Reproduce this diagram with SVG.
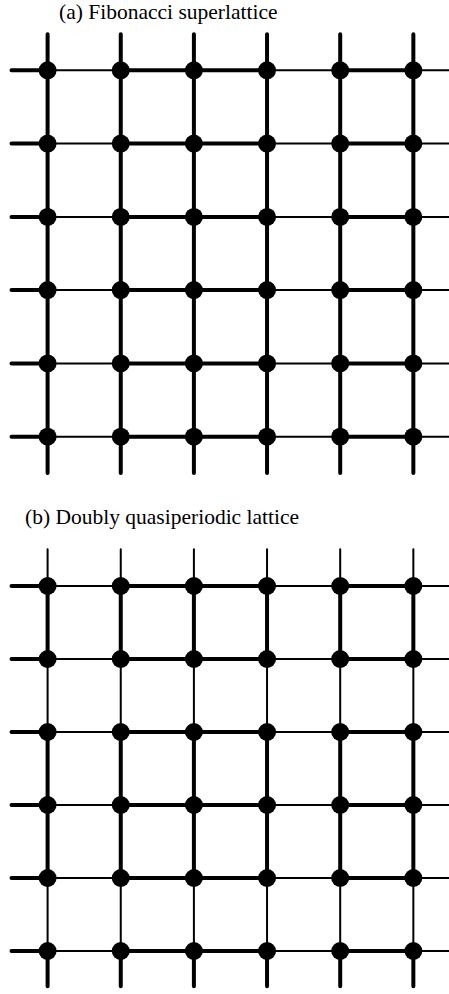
<svg xmlns="http://www.w3.org/2000/svg" width="449" height="994" viewBox="0 0 449 994">
<style>
.t{font-family:'Liberation Serif','Times New Roman',Times,serif;font-size:21.5px;fill:#000}
.k{stroke:#000;stroke-width:4;fill:none;stroke-linecap:round}
.n{stroke:#000;stroke-width:2;fill:none;stroke-linecap:round}
circle{fill:#000}
</style>
<text class="t" font-family="Liberation Serif, serif" x="59" y="19">(a) Fibonacci superlattice</text>
<text class="t" font-family="Liberation Serif, serif" x="25" y="523.5">(b) Doubly quasiperiodic lattice</text>
<g id="connectors">
<g class="k">
<path d="M47.6 34.3V473M120.75 34.3V473M193.9 34.3V473M267.05 34.3V473M340.2 34.3V473M413.35 34.3V473"/>
<path d="M11.5 70.3H47.6M120.75 70.3H267.05M340.2 70.3H413.35M11.5 143.6H47.6M120.75 143.6H267.05M340.2 143.6H413.35M11.5 216.9H47.6M120.75 216.9H267.05M340.2 216.9H413.35M11.5 290.1H47.6M120.75 290.1H267.05M340.2 290.1H413.35M11.5 363.4H47.6M120.75 363.4H267.05M340.2 363.4H413.35M11.5 436.7H47.6M120.75 436.7H267.05M340.2 436.7H413.35"/>
<path d="M11.5 586H47.6M120.75 586H267.05M340.2 586H413.35M11.5 659H47.6M120.75 659H267.05M340.2 659H413.35M11.5 732H47.6M120.75 732H267.05M340.2 732H413.35M11.5 805H47.6M120.75 805H267.05M340.2 805H413.35M11.5 878H47.6M120.75 878H267.05M340.2 878H413.35M11.5 951H47.6M120.75 951H267.05M340.2 951H413.35"/>
<path d="M47.6 586V659M47.6 732V878M47.6 951V986.3M120.75 586V659M120.75 732V878M120.75 951V986.3M193.9 586V659M193.9 732V878M193.9 951V986.3M267.05 586V659M267.05 732V878M267.05 951V986.3M340.2 586V659M340.2 732V878M340.2 951V986.3M413.35 586V659M413.35 732V878M413.35 951V986.3"/>
</g>
<g class="n">
<path d="M47.6 70.3H120.75M267.05 70.3H340.2M413.35 70.3H449M47.6 143.6H120.75M267.05 143.6H340.2M413.35 143.6H449M47.6 216.9H120.75M267.05 216.9H340.2M413.35 216.9H449M47.6 290.1H120.75M267.05 290.1H340.2M413.35 290.1H449M47.6 363.4H120.75M267.05 363.4H340.2M413.35 363.4H449M47.6 436.7H120.75M267.05 436.7H340.2M413.35 436.7H449"/>
<path d="M47.6 586H120.75M267.05 586H340.2M413.35 586H449M47.6 659H120.75M267.05 659H340.2M413.35 659H449M47.6 732H120.75M267.05 732H340.2M413.35 732H449M47.6 805H120.75M267.05 805H340.2M413.35 805H449M47.6 878H120.75M267.05 878H340.2M413.35 878H449M47.6 951H120.75M267.05 951H340.2M413.35 951H449"/>
<path d="M47.6 549.3V586M47.6 659V732M47.6 878V951M120.75 549.3V586M120.75 659V732M120.75 878V951M193.9 549.3V586M193.9 659V732M193.9 878V951M267.05 549.3V586M267.05 659V732M267.05 878V951M340.2 549.3V586M340.2 659V732M340.2 878V951M413.35 549.3V586M413.35 659V732M413.35 878V951"/>
</g>
</g>
<g id="a-r0c0"><circle cx="47.6" cy="70.3" r="9"/></g>
<g id="a-r0c1"><circle cx="120.75" cy="70.3" r="9"/></g>
<g id="a-r0c2"><circle cx="193.9" cy="70.3" r="9"/></g>
<g id="a-r0c3"><circle cx="267.05" cy="70.3" r="9"/></g>
<g id="a-r0c4"><circle cx="340.2" cy="70.3" r="9"/></g>
<g id="a-r0c5"><circle cx="413.35" cy="70.3" r="9"/></g>
<g id="a-r1c0"><circle cx="47.6" cy="143.6" r="9"/></g>
<g id="a-r1c1"><circle cx="120.75" cy="143.6" r="9"/></g>
<g id="a-r1c2"><circle cx="193.9" cy="143.6" r="9"/></g>
<g id="a-r1c3"><circle cx="267.05" cy="143.6" r="9"/></g>
<g id="a-r1c4"><circle cx="340.2" cy="143.6" r="9"/></g>
<g id="a-r1c5"><circle cx="413.35" cy="143.6" r="9"/></g>
<g id="a-r2c0"><circle cx="47.6" cy="216.9" r="9"/></g>
<g id="a-r2c1"><circle cx="120.75" cy="216.9" r="9"/></g>
<g id="a-r2c2"><circle cx="193.9" cy="216.9" r="9"/></g>
<g id="a-r2c3"><circle cx="267.05" cy="216.9" r="9"/></g>
<g id="a-r2c4"><circle cx="340.2" cy="216.9" r="9"/></g>
<g id="a-r2c5"><circle cx="413.35" cy="216.9" r="9"/></g>
<g id="a-r3c0"><circle cx="47.6" cy="290.1" r="9"/></g>
<g id="a-r3c1"><circle cx="120.75" cy="290.1" r="9"/></g>
<g id="a-r3c2"><circle cx="193.9" cy="290.1" r="9"/></g>
<g id="a-r3c3"><circle cx="267.05" cy="290.1" r="9"/></g>
<g id="a-r3c4"><circle cx="340.2" cy="290.1" r="9"/></g>
<g id="a-r3c5"><circle cx="413.35" cy="290.1" r="9"/></g>
<g id="a-r4c0"><circle cx="47.6" cy="363.4" r="9"/></g>
<g id="a-r4c1"><circle cx="120.75" cy="363.4" r="9"/></g>
<g id="a-r4c2"><circle cx="193.9" cy="363.4" r="9"/></g>
<g id="a-r4c3"><circle cx="267.05" cy="363.4" r="9"/></g>
<g id="a-r4c4"><circle cx="340.2" cy="363.4" r="9"/></g>
<g id="a-r4c5"><circle cx="413.35" cy="363.4" r="9"/></g>
<g id="a-r5c0"><circle cx="47.6" cy="436.7" r="9"/></g>
<g id="a-r5c1"><circle cx="120.75" cy="436.7" r="9"/></g>
<g id="a-r5c2"><circle cx="193.9" cy="436.7" r="9"/></g>
<g id="a-r5c3"><circle cx="267.05" cy="436.7" r="9"/></g>
<g id="a-r5c4"><circle cx="340.2" cy="436.7" r="9"/></g>
<g id="a-r5c5"><circle cx="413.35" cy="436.7" r="9"/></g>
<g id="b-r0c0"><circle cx="47.6" cy="586" r="9"/></g>
<g id="b-r0c1"><circle cx="120.75" cy="586" r="9"/></g>
<g id="b-r0c2"><circle cx="193.9" cy="586" r="9"/></g>
<g id="b-r0c3"><circle cx="267.05" cy="586" r="9"/></g>
<g id="b-r0c4"><circle cx="340.2" cy="586" r="9"/></g>
<g id="b-r0c5"><circle cx="413.35" cy="586" r="9"/></g>
<g id="b-r1c0"><circle cx="47.6" cy="659" r="9"/></g>
<g id="b-r1c1"><circle cx="120.75" cy="659" r="9"/></g>
<g id="b-r1c2"><circle cx="193.9" cy="659" r="9"/></g>
<g id="b-r1c3"><circle cx="267.05" cy="659" r="9"/></g>
<g id="b-r1c4"><circle cx="340.2" cy="659" r="9"/></g>
<g id="b-r1c5"><circle cx="413.35" cy="659" r="9"/></g>
<g id="b-r2c0"><circle cx="47.6" cy="732" r="9"/></g>
<g id="b-r2c1"><circle cx="120.75" cy="732" r="9"/></g>
<g id="b-r2c2"><circle cx="193.9" cy="732" r="9"/></g>
<g id="b-r2c3"><circle cx="267.05" cy="732" r="9"/></g>
<g id="b-r2c4"><circle cx="340.2" cy="732" r="9"/></g>
<g id="b-r2c5"><circle cx="413.35" cy="732" r="9"/></g>
<g id="b-r3c0"><circle cx="47.6" cy="805" r="9"/></g>
<g id="b-r3c1"><circle cx="120.75" cy="805" r="9"/></g>
<g id="b-r3c2"><circle cx="193.9" cy="805" r="9"/></g>
<g id="b-r3c3"><circle cx="267.05" cy="805" r="9"/></g>
<g id="b-r3c4"><circle cx="340.2" cy="805" r="9"/></g>
<g id="b-r3c5"><circle cx="413.35" cy="805" r="9"/></g>
<g id="b-r4c0"><circle cx="47.6" cy="878" r="9"/></g>
<g id="b-r4c1"><circle cx="120.75" cy="878" r="9"/></g>
<g id="b-r4c2"><circle cx="193.9" cy="878" r="9"/></g>
<g id="b-r4c3"><circle cx="267.05" cy="878" r="9"/></g>
<g id="b-r4c4"><circle cx="340.2" cy="878" r="9"/></g>
<g id="b-r4c5"><circle cx="413.35" cy="878" r="9"/></g>
<g id="b-r5c0"><circle cx="47.6" cy="951" r="9"/></g>
<g id="b-r5c1"><circle cx="120.75" cy="951" r="9"/></g>
<g id="b-r5c2"><circle cx="193.9" cy="951" r="9"/></g>
<g id="b-r5c3"><circle cx="267.05" cy="951" r="9"/></g>
<g id="b-r5c4"><circle cx="340.2" cy="951" r="9"/></g>
<g id="b-r5c5"><circle cx="413.35" cy="951" r="9"/></g>
</svg>
